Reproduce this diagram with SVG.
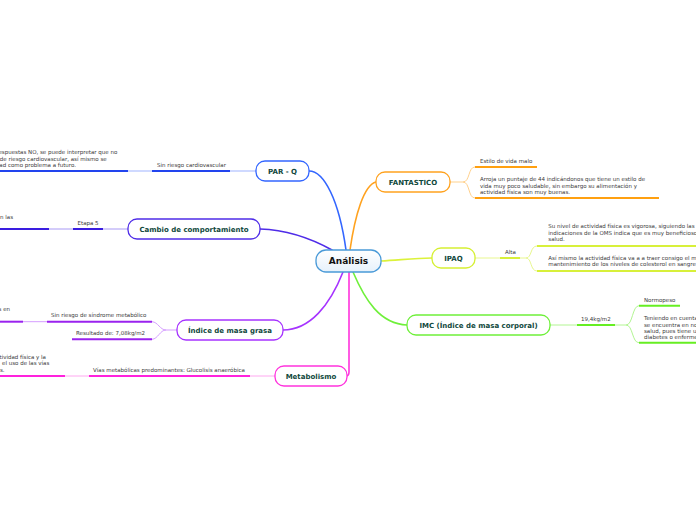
<svg xmlns="http://www.w3.org/2000/svg" width="696" height="520" viewBox="0 0 696 520">
<defs>
<linearGradient id="cg" x1="0" y1="0" x2="0" y2="1"><stop offset="0" stop-color="#ffffff"/><stop offset="1" stop-color="#e6f1fb"/></linearGradient>
<style>
.box{fill:#fff;stroke-width:1.3}
.nt{font-family:"DejaVu Sans",Verdana,sans-serif;font-weight:bold;font-size:7px;fill:#10483c;text-anchor:middle}
.st{font-family:"DejaVu Sans",Verdana,sans-serif;font-size:5.5px;fill:#3a3a3a}
.e{text-anchor:end}
.main{fill:none;stroke-width:1.6;stroke-linecap:round}
.thin{fill:none;stroke-width:1}
.ul{fill:none;stroke-width:2}
</style>
</defs>
<rect width="696" height="520" fill="#fff"/>
<g id="connectors">
<path class="main" stroke="#3366ff" d="M309,171 C324,171 339,200 346,250"/>
<path class="main" stroke="#ffa21f" d="M376,182 C364,185 355,215 350,250"/>
<path class="main" stroke="#4f2ce8" d="M260,229 C290,230 314,240 332,250"/>
<path class="main" stroke="#dcf23a" d="M381,261 C400,260 415,258 432,258"/>
<path class="main" stroke="#6ff03a" d="M353,272 C365,300 380,324 407,325"/>
<path class="main" stroke="#a633ff" d="M343,272 C330,305 310,330 283,330"/>
<path class="main" stroke="#ff33dd" d="M349,272 L349,372 Q349,376 346,376"/>
<path class="thin" stroke="#9fb3ff" d="M230,171 H256 M128,171 H152"/>
<path class="thin" stroke="#a899f5" d="M103,229 H128 M49,229 H73"/>
<path class="thin" stroke="#d59dff" d="M177,330 H166 C160,330 158,322 152,321.7 M166,330 C160,330 158,339 152,339.3 M23,321.7 H47"/>
<path class="thin" stroke="#ffa8f0" d="M250,376 H275 M65,376 H89"/>
<path class="thin" stroke="#ffd18c" d="M450,182 H463 C470,182 468,167 475,167 M463,182 C470,182 468,198 475,198"/>
<path class="thin" stroke="#e8f78f" d="M475,258 H500 M520,258 H526 C532,258 530,246 537,246 M526,258 C532,258 530,271 537,271"/>
<path class="thin" stroke="#b2f592" d="M550,325 H577 M615,325 H626 C633,325 632,306 639,305.7 M626,325 C633,325 632,343 639,342.7"/>
</g>
<g id="center">
<rect x="316" y="250" width="65" height="22" rx="10" fill="url(#cg)" stroke="#4a9ad8" stroke-width="1.3"/>
<text x="348.5" y="264.3" font-family="DejaVu Sans,Verdana,sans-serif" font-weight="bold" font-size="9px" fill="#111" text-anchor="middle">Análisis</text>
</g>
<g id="parq">
<rect class="box" x="256" y="161" width="53" height="20" rx="9" stroke="#3366ff"/>
<text class="nt" x="282.5" y="173.5">PAR - Q</text>
</g>
<g id="parq-1">
<line class="ul" stroke="#2244ee" x1="152" y1="171" x2="230" y2="171"/>
<text class="st" x="157" y="167">Sin riesgo cardiovascular</text>
</g>
<g id="parq-1-1">
<line class="ul" stroke="#2244ee" x1="0" y1="171" x2="128" y2="171"/>
<text class="st e" x="117.3" y="154.3">espuestas NO, se puede interpretar que no</text>
<text class="st e" x="106.7" y="161">de riesgo cardiovascular, así mismo se</text>
<text class="st e" x="76" y="167.4">ad como problema a futuro.</text>
</g>
<g id="cambio">
<rect class="box" x="128" y="219" width="132" height="20" rx="9" stroke="#4f2ce8"/>
<text class="nt" x="194" y="231.5">Cambio de comportamiento</text>
</g>
<g id="cambio-1">
<line class="ul" stroke="#3a1de0" x1="73" y1="229" x2="103" y2="229"/>
<text class="st" x="77.5" y="224.8">Etapa 5</text>
</g>
<g id="cambio-1-1">
<line class="ul" stroke="#3a1de0" x1="0" y1="229" x2="49" y2="229"/>
<text class="st e" x="13" y="218.7">n las</text>
</g>
<g id="grasa">
<rect class="box" x="177" y="320" width="106" height="20" rx="9" stroke="#a633ff"/>
<text class="nt" x="230" y="332.5">Índice de masa grasa</text>
</g>
<g id="grasa-1">
<line class="ul" stroke="#9a22ee" x1="47" y1="321.7" x2="152" y2="321.7"/>
<text class="st" x="51" y="317.3">Sin riesgo de síndrome metabólico</text>
</g>
<g id="grasa-1-1">
<line class="ul" stroke="#9a22ee" x1="0" y1="321.7" x2="23" y2="321.7"/>
<text class="st e" x="10" y="311">s en</text>
</g>
<g id="grasa-2">
<line class="ul" stroke="#9a22ee" x1="72" y1="339.3" x2="152" y2="339.3"/>
<text class="st" x="76" y="334.8">Resultado de: 7,08kg/m2</text>
</g>
<g id="metab">
<rect class="box" x="275" y="366" width="72" height="20" rx="9" stroke="#ff33dd"/>
<text class="nt" x="311" y="378.5">Metabolismo</text>
</g>
<g id="metab-1">
<line class="ul" stroke="#ff22dd" x1="89" y1="376" x2="250" y2="376"/>
<text class="st" x="93" y="372">Vías metabólicas predominantes: Glucolisis anaeróbica</text>
</g>
<g id="metab-1-1">
<line class="ul" stroke="#ff22dd" x1="0" y1="376" x2="65" y2="376"/>
<text class="st e" x="46" y="358.5">tividad física y la</text>
<text class="st e" x="49.3" y="365">el uso de las vías</text>
<text class="st e" x="4.5" y="371.5">s.</text>
</g>
<g id="fantastico">
<rect class="box" x="376" y="172" width="74" height="20" rx="9" stroke="#ffa21f"/>
<text class="nt" x="413" y="184.5">FANTASTICO</text>
</g>
<g id="fantastico-1">
<line class="ul" stroke="#ffa010" x1="475" y1="167" x2="537" y2="167"/>
<text class="st" x="480" y="162.8">Estilo de vida malo</text>
</g>
<g id="fantastico-2">
<line class="ul" stroke="#ffa010" x1="475" y1="198" x2="659" y2="198"/>
<text class="st" x="480" y="181">Arroja un puntaje de 44 indicándonos que tiene un estilo de</text>
<text class="st" x="480" y="187.5">vida muy poco saludable, sin embargo su alimentación y</text>
<text class="st" x="480" y="194">actividad física son muy buenas.</text>
</g>
<g id="ipaq">
<rect class="box" x="432" y="248" width="43" height="20" rx="9" stroke="#d6f033"/>
<text class="nt" x="453.5" y="260.5">IPAQ</text>
</g>
<g id="ipaq-1">
<line class="ul" stroke="#d8f03a" x1="500" y1="258" x2="520" y2="258"/>
<text class="st" x="505" y="254">Alta</text>
</g>
<g id="ipaq-1-1">
<line class="ul" stroke="#d8f03a" x1="537" y1="246" x2="696" y2="246"/>
<text class="st" x="548.3" y="228">Su nivel de actividad física es vigorosa, siguiendo las</text>
<text class="st" x="548.3" y="234.5">indicaciones de la OMS indica que es muy beneficioso</text>
<text class="st" x="548.3" y="241">salud.</text>
</g>
<g id="ipaq-1-2">
<line class="ul" stroke="#d8f03a" x1="537" y1="271" x2="696" y2="271"/>
<text class="st" x="548.3" y="259.7">Así mismo la actividad física va a a traer consigo el m</text>
<text class="st" x="548.3" y="265.7">mantenimiento de los niveles de colesterol en sangre</text>
</g>
<g id="imc">
<rect class="box" x="407" y="315" width="143" height="20" rx="9" stroke="#6ff03a"/>
<text class="nt" x="478.5" y="327.5">IMC (Índice de masa corporal)</text>
</g>
<g id="imc-1">
<line class="ul" stroke="#66ee22" x1="577" y1="325" x2="615" y2="325"/>
<text class="st" x="581" y="321.3">19,4kg/m2</text>
</g>
<g id="imc-1-1">
<line class="ul" stroke="#66ee22" x1="639" y1="305.7" x2="680" y2="305.7"/>
<text class="st" x="644" y="302">Normopeso</text>
</g>
<g id="imc-1-2">
<line class="ul" stroke="#66ee22" x1="639" y1="342.7" x2="696" y2="342.7"/>
<text class="st" x="644" y="320.3">Teniendo en cuenta</text>
<text class="st" x="644" y="326.5">se encuentra en no</text>
<text class="st" x="644" y="332.7">salud, pues tiene u</text>
<text class="st" x="644" y="339">diabetes o enferme</text>
</g>
</svg>
